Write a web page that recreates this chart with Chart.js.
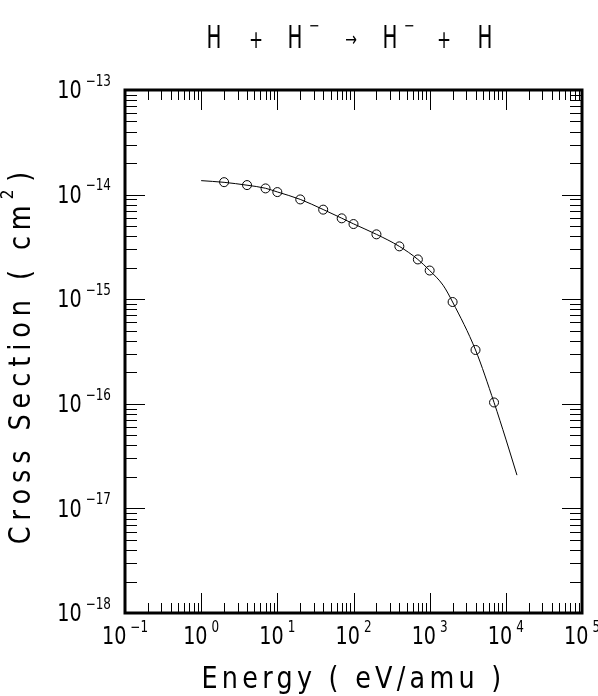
<!DOCTYPE html>
<html>
<head>
<meta charset="utf-8">
<script src="https://cdn.jsdelivr.net/npm/chart.js@4.4.1/dist/chart.umd.min.js"></script>
<style>
  html, body { margin: 0; background: #fff; }
  canvas { display: block; }
</style>
</head>
<body>
<canvas id="c" width="598" height="696"></canvas>
<script>
// fitted curve
const fitEnergy = [1, 2, 4, 7, 10, 20, 40, 70, 100, 200, 400, 700, 1000, 1500, 2000, 4000, 7000, 10000, 14000];
const fitSigma  = [1.36e-14, 1.31e-14, 1.23e-14, 1.15e-14, 1.06e-14, 9.0e-15, 7.2e-15, 5.95e-15, 5.25e-15,
                   4.17e-15, 3.2e-15, 2.4e-15, 1.88e-15, 1.36e-15, 9.4e-16, 3.27e-16, 1.03e-16, 4.6e-17, 2.08e-17];

// measured points (open circles)
const dataEnergy = [2, 4, 7, 10, 20, 40, 70, 100, 200, 400, 700, 1000, 2000, 4000, 7000];
const dataSigma  = [1.315e-14, 1.233e-14, 1.146e-14, 1.057e-14, 8.99e-15, 7.18e-15, 5.93e-15, 5.23e-15,
                    4.17e-15, 3.2e-15, 2.4e-15, 1.88e-15, 9.4e-16, 3.27e-16, 1.03e-16];

// axis decades (tick labels are 10^n)
const xExps = [-1, 0, 1, 2, 3, 4, 5];
const yExps = [-18, -17, -16, -15, -14, -13];

const FONT = '"DejaVu Sans", sans-serif';

function txt(ctx, s, x, y, size, align, sx) {
  ctx.save();
  ctx.font = size + 'px ' + FONT;
  ctx.textBaseline = 'middle';
  ctx.textAlign = align || 'center';
  ctx.translate(x, y);
  ctx.scale(sx || 1, 1);
  ctx.fillText(s, 0, 0);
  ctx.restore();
}

function width(ctx, s, size, sx) {
  ctx.save();
  ctx.font = size + 'px ' + FONT;
  const w = ctx.measureText(s).width * (sx || 1);
  ctx.restore();
  return w;
}

// 10^n label; anchor 'center' (x axis) or 'right' (y axis)
function pow10(ctx, n, x, y, anchor) {
  const base = 24, sup = 15, sx = 0.8;
  const e = (n < 0 ? '\u2212' : '') + Math.abs(n);
  const wb = width(ctx, '10', base, sx), ws = width(ctx, e, sup, sx), gap = 4;
  const total = wb + gap + ws;
  const x0 = anchor === 'right' ? x - total : x - total / 2;
  txt(ctx, '10', x0, y, base, 'left', sx);
  txt(ctx, e, x0 + wb + gap, y - 10, sup, 'left', sx);
}

const frame = {
  id: 'frame',
  afterDraw(chart) {
    const ctx = chart.ctx, a = chart.chartArea;
    const xs = chart.scales.x, ys = chart.scales.y;
    ctx.save();
    ctx.strokeStyle = '#000';
    ctx.fillStyle = '#000';

    // ticks, inside on all four sides
    ctx.lineWidth = 1;
    ctx.beginPath();
    for (let d = -1; d <= 5; d++) {
      for (let k = 1; k <= 9; k++) {
        const v = k * Math.pow(10, d);
        if (v < xs.min * 0.999 || v > xs.max * 1.001) continue;
        const p = Math.round(xs.getPixelForValue(v)) + 0.5;
        const len = k === 1 ? 20 : 10;
        ctx.moveTo(p, a.bottom); ctx.lineTo(p, a.bottom - len);
        ctx.moveTo(p, a.top); ctx.lineTo(p, a.top + len);
      }
    }
    for (let d = -18; d <= -13; d++) {
      for (let k = 1; k <= 9; k++) {
        const v = k * Math.pow(10, d);
        if (v < ys.min * 0.999 || v > ys.max * 1.001) continue;
        const p = Math.round(ys.getPixelForValue(v)) + 0.5;
        const len = k === 1 ? 20 : 12;
        ctx.moveTo(a.left, p); ctx.lineTo(a.left + len, p);
        ctx.moveTo(a.right, p); ctx.lineTo(a.right - len, p);
      }
    }
    ctx.stroke();

    ctx.lineWidth = 3;
    ctx.strokeRect(a.left, a.top, a.right - a.left, a.bottom - a.top);

    // tick labels
    xExps.forEach(n => pow10(ctx, n, xs.getPixelForValue(Math.pow(10, n)), a.bottom + 25, 'center'));
    yExps.forEach(n => pow10(ctx, n, a.left - 14, ys.getPixelForValue(Math.pow(10, n)) + 2, 'right'));

    // axis titles
    ctx.save();
    ctx.letterSpacing = '5px';
    txt(ctx, 'Energy ( eV/amu )', (a.left + a.right) / 2, 680, 30, 'center', 0.85);
    ctx.restore();

    ctx.save();
    ctx.translate(22, 356);
    ctx.rotate(-Math.PI / 2);
    ctx.letterSpacing = '7px';
    const main = 'Cross Section ( cm';
    const wt = width(ctx, main, 30, 0.85);
    const w2 = width(ctx, '2', 18, 0.85), wp = width(ctx, ')', 30, 0.85);
    const x0 = -(wt + w2 + wp) / 2;
    txt(ctx, main, x0, 0, 30, 'left', 0.85);
    txt(ctx, '2', x0 + wt, -14, 18, 'left', 0.85);
    txt(ctx, ')', x0 + wt + w2 + 2, 0, 30, 'left', 0.85);
    ctx.restore();

    // reaction title
    const ty = 40;
    txt(ctx, 'H', 214, ty, 32, 'center', 0.62);
    txt(ctx, '+', 256, ty + 2, 24, 'center', 0.7);
    txt(ctx, 'H', 295, ty, 32, 'center', 0.62);
    txt(ctx, '\u2212', 314, ty - 13, 16, 'center', 0.8);
    txt(ctx, '\u2192', 351, ty + 1, 20, 'center', 0.7);
    txt(ctx, 'H', 390, ty, 32, 'center', 0.62);
    txt(ctx, '\u2212', 409, ty - 13, 16, 'center', 0.8);
    txt(ctx, '+', 444, ty + 2, 24, 'center', 0.7);
    txt(ctx, 'H', 485, ty, 32, 'center', 0.62);
    ctx.restore();
  }
};

new Chart(document.getElementById('c'), {
  type: 'scatter',
  data: {
    datasets: [
      {
        label: 'fit',
        data: fitEnergy.map((e, i) => ({ x: e, y: fitSigma[i] })),
        showLine: true,
        borderColor: '#000',
        borderWidth: 1,
        pointRadius: 0,
        cubicInterpolationMode: 'monotone',
        fill: false
      },
      {
        label: 'data',
        data: dataEnergy.map((e, i) => ({ x: e, y: dataSigma[i] })),
        showLine: false,
        pointStyle: 'circle',
        pointRadius: 4.5,
        borderColor: '#000',
        borderWidth: 1,
        backgroundColor: 'rgba(0,0,0,0)'
      }
    ]
  },
  options: {
    responsive: false,
    animation: false,
    layout: { padding: { left: 125, right: 16, top: 90, bottom: 83 } },
    plugins: { legend: { display: false }, tooltip: { enabled: false }, title: { display: false } },
    scales: {
      x: { type: 'logarithmic', min: 0.1, max: 1e5, display: false },
      y: { type: 'logarithmic', min: 1e-18, max: 1e-13, display: false }
    }
  },
  plugins: [frame]
});
</script>
</body>
</html>
